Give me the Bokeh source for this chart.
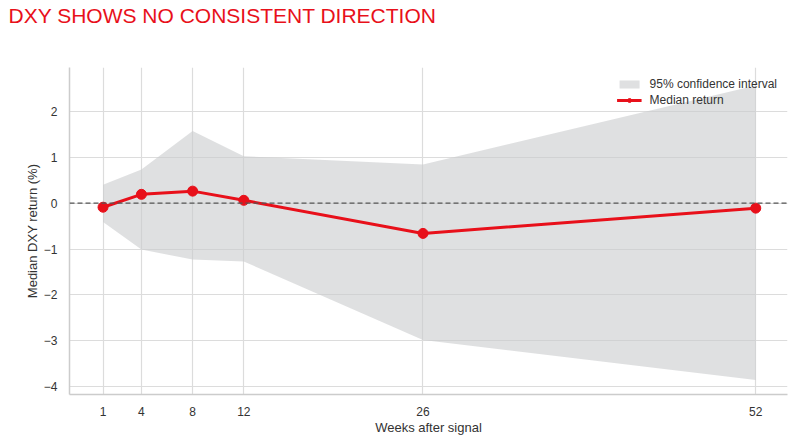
from bokeh.plotting import figure
from bokeh.models import ColumnDataSource, FixedTicker, Range1d, Span, Legend, LegendItem, Title
from bokeh.embed import file_html
from bokeh.resources import INLINE

weeks = [1, 4, 8, 12, 26, 52]
median_ret = [-0.09, 0.19, 0.26, 0.06, -0.66, -0.11]
ci_upper = [0.40, 0.73, 1.57, 1.02, 0.84, 2.56]
ci_lower = [-0.41, -1.01, -1.23, -1.27, -2.98, -3.85]
y_ticks = [-4, -3, -2, -1, 0, 1, 2]
title_text = "DXY SHOWS NO CONSISTENT DIRECTION"

RED = "#e8101a"
FONT = "Liberation Sans"

src = ColumnDataSource(dict(w=weeks, m=median_ret, lo=ci_lower, hi=ci_upper))

p = figure(width=795, height=437, output_backend="svg", toolbar_location=None,
           x_range=Range1d(-1.62, 54.48), y_range=Range1d(-4.165, 2.95),
           min_border_left=69, min_border_right=8, min_border_top=67, min_border_bottom=43)

# spacer panel between the frame and the title (white text, so it is drawn but invisible)
spacer = Title(text=" ", text_font=FONT, text_font_size="10px", standoff=28,
               text_color="white")
p.add_layout(spacer, "above")
t = Title(text=title_text, text_color=RED, text_font=FONT,
          text_font_size="21px", text_font_style="normal", align="left", offset=-61,
          standoff=0)
p.add_layout(t, "above")

p.outline_line_color = None
p.background_fill_color = "white"

area = p.varea(x="w", y1="lo", y2="hi", source=src, fill_color="#c9cbcd", fill_alpha=0.6)
zero = Span(location=0, dimension="width", line_color="#555555", line_dash="5 3", line_width=1.2)
p.add_layout(zero)
ln = p.line(x="w", y="m", source=src, line_color=RED, line_width=3)
sc = p.scatter(x="w", y="m", source=src, size=10, fill_color=RED, line_color=RED)

p.xaxis.ticker = FixedTicker(ticks=weeks)
p.yaxis.ticker = FixedTicker(ticks=y_ticks)
p.yaxis.major_label_overrides = {v: (("\u2212" + str(-v)) if v < 0 else str(v)) for v in y_ticks}

for ax in (p.xaxis[0], p.yaxis[0]):
    ax.axis_line_color = "#cccccc"
    ax.axis_line_width = 1.5
    ax.major_tick_line_color = None
    ax.minor_tick_line_color = None
    ax.major_label_text_font = FONT
    ax.major_label_text_font_size = "12px"
    ax.major_label_text_color = "#333333"
    ax.axis_label_text_font = FONT
    ax.axis_label_text_font_size = "13px"
    ax.axis_label_text_font_style = "normal"
    ax.axis_label_text_color = "#333333"

p.xaxis.axis_label = "Weeks after signal"
p.yaxis.axis_label = "Median DXY return (%)"
p.xaxis.major_label_standoff = 6
p.yaxis.major_label_standoff = 6
p.xaxis.axis_label_standoff = 1
p.yaxis.axis_label_standoff = 1

p.xgrid.ticker = FixedTicker(ticks=weeks)
p.ygrid.ticker = FixedTicker(ticks=y_ticks)
p.grid.grid_line_color = "#dcdcdc"
p.grid.grid_line_width = 1.2

legend = Legend(items=[LegendItem(label="95% confidence interval", renderers=[area]),
                       LegendItem(label="Median return", renderers=[ln, sc])],
                location="top_right", border_line_color=None, background_fill_alpha=0,
                label_text_font=FONT, label_text_font_size="12px", label_text_color="#333333",
                glyph_width=25, glyph_height=10, spacing=2, padding=2, margin=10,
                label_standoff=8, label_height=14)
p.add_layout(legend)

open("out.html", "w").write(file_html(p, INLINE))
